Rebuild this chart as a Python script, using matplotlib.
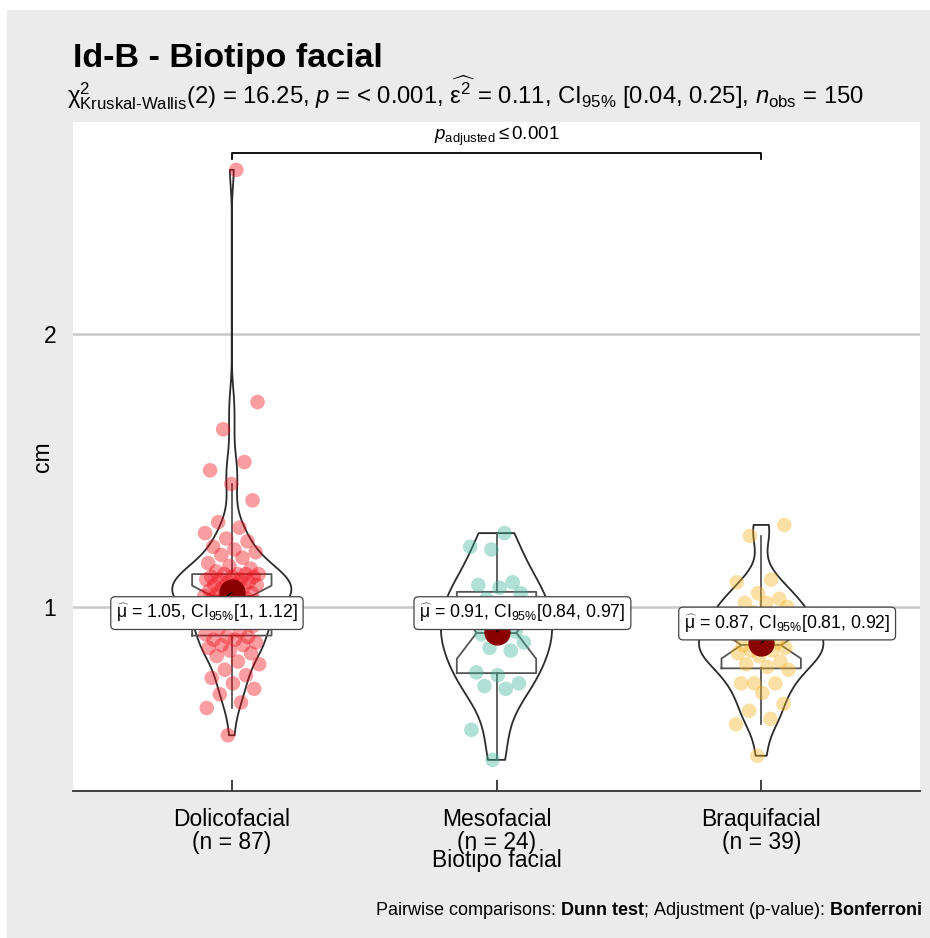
import numpy as np
import matplotlib
matplotlib.use('Agg')
import matplotlib.pyplot as plt
from matplotlib.patches import Rectangle

plt.rcParams['font.family'] = ['Liberation Sans', 'DejaVu Sans']
plt.rcParams['mathtext.fontset'] = 'custom'
plt.rcParams['mathtext.rm'] = 'Liberation Sans'
plt.rcParams['mathtext.it'] = 'Liberation Sans:italic'
plt.rcParams['mathtext.bf'] = 'Liberation Sans:bold'

groups = ['Dolicofacial', 'Mesofacial', 'Braquifacial']
dolico = [0.53, 0.63, 0.65, 0.68, 0.70, 0.72, 0.74, 0.75, 0.77, 0.79, 0.80, 0.82,
          0.83, 0.84, 0.85, 0.86, 0.86, 0.87, 0.88, 0.88, 0.89, 0.89,
          0.90, 0.91, 0.92, 0.93, 0.94, 0.95, 0.96, 0.97, 0.98, 0.98, 0.99,
          1.00, 1.00, 1.01, 1.01, 1.02, 1.02, 1.03, 1.03, 1.03, 1.04, 1.04,
          1.04, 1.05, 1.05, 1.06, 1.06, 1.07, 1.07, 1.08, 1.08, 1.08, 1.09,
          1.09, 1.10, 1.10, 1.10, 1.11, 1.11, 1.11, 1.12, 1.12, 1.12, 1.12,
          1.13, 1.14, 1.15, 1.16, 1.18, 1.19, 1.20, 1.21, 1.22, 1.24, 1.25,
          1.27, 1.29, 1.31, 1.39, 1.45, 1.50, 1.53, 1.65, 1.75, 2.60]
meso = [0.44, 0.55, 0.70, 0.71, 0.72, 0.75, 0.76, 0.84, 0.85, 0.87, 0.89, 0.90,
        0.91, 0.93, 0.98, 1.00, 1.03, 1.05, 1.07, 1.08, 1.09, 1.21, 1.22, 1.27]
braqui = [0.455, 0.57, 0.59, 0.62, 0.645, 0.685, 0.72, 0.72, 0.72, 0.77, 0.78,
          0.79, 0.80, 0.82, 0.83, 0.84, 0.84, 0.85, 0.85, 0.86, 0.87, 0.88,
          0.90, 0.91, 0.92, 0.93, 0.94, 0.95, 0.96, 0.98, 1.00, 1.015, 1.015,
          1.03, 1.05, 1.09, 1.10, 1.26, 1.30]
ci_txt = ['[1, 1.12]', '[0.84, 0.97]', '[0.81, 0.92]']
colors = ['#f00b15', '#3db399', '#f7b31f']

data = [np.array(dolico), np.array(meso), np.array(braqui)]
pos = np.array([1, 2, 3])


def nrd0(kde):
    # R's default bandwidth, as a factor of the sd
    d = np.asarray(kde.dataset).ravel()
    sd = d.std(ddof=1)
    q1, q3 = np.percentile(d, [25, 75])
    h = 0.9 * min(sd, (q3 - q1) / 1.34) * len(d) ** -0.2
    return h / sd


fig = plt.figure(figsize=(9.3, 9.38), dpi=100)
fig.patches.append(Rectangle((7 / 930, 0), 1, 1 - 10 / 938, transform=fig.transFigure,
                             color='#ebebeb', zorder=-10))
ax = fig.add_axes([73 / 930, 1 - 791 / 938, 847 / 930, 669 / 938])

vp = ax.violinplot(data, positions=pos, widths=[0.45, 0.42, 0.47], showextrema=False,
                   bw_method=nrd0, points=300)
for b in vp['bodies']:
    b.set_facecolor('none')
    b.set_edgecolor('#2b2b2b')
    b.set_linewidth(1.3)
    b.set_alpha(1)

lp = dict(color='#555555', lw=1.3)
ax.boxplot(data, positions=pos, widths=0.3, notch=True, showfliers=False, showcaps=False,
           boxprops=lp, whiskerprops=lp, medianprops=lp, manage_ticks=False)

for i, d in enumerate(data):
    k = np.arange(len(d))
    jit = ((k * 0.618034 + 0.43) % 1 - 0.5) * 0.21
    ax.scatter(pos[i] + jit, d, s=110, color=colors[i], alpha=0.4, edgecolors='none', zorder=3)

label_dx = [-0.094, 0.098, 0.098]
label_dy = [-0.076, 0.068, 0.071]
for i, d in enumerate(data):
    m = d.mean()
    lx, ly = pos[i] + label_dx[i], m + label_dy[i]
    ax.scatter(pos[i], m, s=320, color='#8b0000', zorder=4)
    ax.plot([pos[i], lx], [m, ly], color='black', lw=0.9, zorder=4.5)
    ax.text(lx, ly, r'$\widehat{\mathrm{\mu}}$ = %.2f, CI$_{95\%%}$%s' % (m, ci_txt[i]),
            ha='center', va='center', fontsize=12.7, zorder=5,
            bbox=dict(boxstyle='round,pad=0.3,rounding_size=0.25', fc='white', ec='#444444', lw=0.9))

# pairwise comparison bracket
yb = max(d.max() for d in data) + 0.06
ax.plot([1, 1, 3, 3], [yb - 0.02, yb, yb, yb - 0.02], color='black', lw=1.3)
ax.text(2, yb + 0.018, r'$p_{\text{adjusted}}\leq 0.001$', ha='center', va='bottom', fontsize=13.5)

ax.set_xlim(0.4, 3.6)
ax.set_ylim(0.326, 2.775)
ax.set_yticks([1, 2])
ax.yaxis.grid(True, color='#c8c8c8', lw=1.8)
ax.set_axisbelow(True)
ax.set_xticks(pos)
ax.set_xticklabels([f'{g}\n(n = {len(d)})' for g, d in zip(groups, data)], linespacing=1.0)
for s in ['left', 'top', 'right']:
    ax.spines[s].set_visible(False)
ax.spines['bottom'].set_color('#333333')
ax.spines['bottom'].set_linewidth(1.3)
ax.tick_params(axis='x', direction='in', length=8, width=1.3, color='#333333', pad=12, labelsize=16.5)
ax.tick_params(axis='y', length=0, pad=12, labelsize=16.5)

ax.set_xlabel('Biotipo facial', fontsize=16.5)
ax.xaxis.set_label_coords(0.5, -(860 - 791) / 669)
ax.xaxis.label.set_va('center')
ax.set_ylabel('cm', fontsize=16.5)
ax.yaxis.set_label_coords(-(73 - 42) / 847, 0.5)
ax.yaxis.label.set_va('center')

fig.text(73 / 930, 1 - 67 / 938, 'Id-B - Biotipo facial', fontsize=24.5, fontweight='bold', va='baseline')
fig.text(67 / 930, 1 - 103 / 938,
         r'$\mathrm{\chi}^{2}_{\text{Kruskal-Wallis}}$(2) = 16.25, $p$ = < 0.001, '
         r'$\widehat{\mathrm{\epsilon}^{2}}$ = 0.11, '
         r'CI$_{95\%}$ [0.04, 0.25], $n_{\text{obs}}$ = 150', fontsize=17.2, va='baseline')
fig.text(922 / 930, 1 - 915 / 938,
         r'Pairwise comparisons: $\mathbf{Dunn\ test}$; Adjustment (p-value): $\mathbf{Bonferroni}$',
         fontsize=13, ha='right', va='baseline')

fig.savefig('out.png', dpi=100)
